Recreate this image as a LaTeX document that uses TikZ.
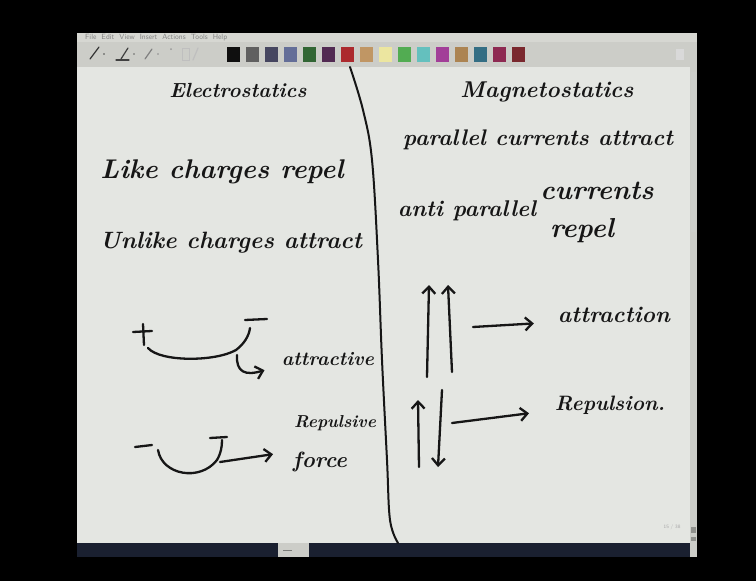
\documentclass[tikz,border=0pt]{standalone}
\usepackage{tikz}
\usepackage{graphicx}
\usetikzlibrary{arrows.meta}
\usetikzlibrary{positioning}

\definecolor{page}{RGB}{228,230,226}
\definecolor{toolbar}{RGB}{204,205,200}
\definecolor{menubar}{RGB}{214,215,210}
\definecolor{status}{RGB}{26,32,48}
\definecolor{ink}{RGB}{22,22,22}

% handwriting scaled to a given width
\newcommand{\hand}[2]{\resizebox{#1pt}{!}{\bfseries\itshape #2}}

\begin{document}
\begin{tikzpicture}[
    x=1pt, y=-1pt,
    pen/.style={draw=ink, line width=2.3pt, line cap=round, line join=round},
    arr/.style={pen, -{Straight Barb[length=7pt,width=13pt]}},
    hand/.style={inner sep=0pt, anchor=base, text=ink},
    icon/.style={line width=1.2pt, line cap=round},
]
    \useasboundingbox (0,0) rectangle (756,581);
    \fill[black] (0,0) rectangle (756,581);

    % Window: menu, toolbar, page, status bar
    \fill[menubar] (77,33) rectangle (697,42);
    \fill[toolbar] (77,42) rectangle (697,67);
    \fill[page] (77,67) rectangle (690,543);
    \fill[toolbar] (690,67) rectangle (697,543);
    \fill[page!90!black] (691,72) rectangle (696,232);
    \fill[toolbar!70!black] (691,527) rectangle (696,533);
    \fill[toolbar!70!black] (691,537) rectangle (696,541);
    \fill[status] (77,543) rectangle (278,557);
    \fill[toolbar] (278,543) rectangle (309,557);
    \fill[status] (309,543) rectangle (690,557);
    \fill[toolbar] (690,543) rectangle (697,557);
    \draw[toolbar!60!black, line width=0.6pt] (283,550) -- (292,550);

    \node[anchor=west, inner sep=0pt, text=black!50] (menu) at (85,37.5)
        {\resizebox{142pt}{!}{\sffamily File\ \ Edit\ \ View\ \ Insert\ \ Actions\ \ Tools\ \ Help}};

    % Pen tools
    \draw[icon, black!80] (90,59) -- (99,47);
    \fill[black!70] (104,54) circle (0.9);
    \draw[icon, black!75] (121,59) -- (128,48);
    \draw[icon, black!75] (116,60) -- (129,60);
    \fill[black!60] (134,54) circle (0.9);
    \draw[icon, black!50] (145,59) -- (152,49);
    \fill[black!45] (158,54) circle (0.9);
    \fill[black!40] (171,49) circle (1);
    \draw[black!25, line width=0.8pt] (182,48) rectangle (189,60);
    \draw[icon, black!25] (193,60) -- (198,48);
    \fill[white!85!black] (676,49) rectangle (684,60);

    % Colour swatches
    \foreach \red/\grn/\blu [count=\i from 0] in {15/15/15, 96/96/96, 70/70/96,
        100/110/152, 50/102/52, 82/42/82, 172/42/46, 192/150/100, 236/230/160,
        82/172/82, 100/192/190, 162/62/152, 172/132/82, 52/110/132, 142/42/82,
        122/40/46} {
        \definecolor{swatch}{RGB}{\red,\grn,\blu}
        \fill[swatch] (227+19*\i,47) rectangle ++(13,15);
    }

    % Divider
    \draw[pen, line width=2pt] plot[smooth, tension=0.6] coordinates {(350,67) (363,110)
        (372,160) (378,260) (382,360) (387,460) (390,520) (398,543)};

    % Headings and statements
    \node[hand] (elec) at (238,97) {\hand{137}{Electrostatics}};
    \node[hand] (like) at (222,178) {\hand{243}{Like charges repel}};
    \node[hand] (unlike) at (231,248) {\hand{262}{Unlike charges attract}};
    \node[hand] (magneto) at (547,97) {\hand{173}{Magnetostatics}};
    \node[hand] (para) at (538,145) {\hand{270}{parallel currents attract}};
    \node[hand] (anti) at (467,216) {\hand{138}{anti parallel}};
    \node[hand] (currents) at (597,199) {\hand{113}{currents}};
    \node[hand] (repel) at (582,237) {\hand{64}{repel}};

    % Charges
    \node[hand] (attractive) at (328,365) {\hand{92}{attractive}};
    \node[hand] (repulsive) at (335,427) {\hand{82}{Repulsive}};
    \node[hand] (force) at (320,467) {\hand{54}{force}};
    \draw[pen] (133,332) -- (152,331);
    \draw[pen] (143,324) -- (144,345);
    \draw[pen] (245,320) -- (267,319);
    \draw[pen] (148,348) .. controls (160,362) and (215,362) .. (236,350)
        .. controls (244,344) and (249,336) .. (250,328);
    \coordinate (hookA) at (237,355);
    \draw[arr, shorten >=18pt] (hookA) .. controls (236,372) and (245,376) .. (attractive.base west);
    \draw[pen] (135,447) -- (152,445);
    \draw[pen] (210,438) -- (227,437);
    \draw[pen] (158,450) .. controls (162,475) and (200,482) .. (217,460)
        .. controls (221,453) and (222,447) .. (222,440);
    \coordinate (hookB) at (220,462);
    \draw[arr, shorten >=20pt] (hookB) -- (force.north west);

    % Currents
    \node[hand] (attraction) at (614,322) {\hand{112}{attraction}};
    \node[hand] (repulsion) at (610,410) {\hand{110}{Repulsion.}};
    \draw[arr] (427,377) -- (429,285);
    \draw[arr] (452,372) -- (448,285);
    \coordinate (upup) at (473,327);
    \draw[arr, shorten >=24pt] (upup) -- (attraction.base west);
    \draw[arr] (419,467) -- (418,400);
    \draw[arr] (442,390) -- (438,467);
    \coordinate (updown) at (452,423);
    \draw[arr, shorten >=26pt] (updown) -- (repulsion.base west);

    \node[inner sep=0pt, text=black!35, font=\sffamily\tiny] (pageno) at (672,527) {15 / 38};
\end{tikzpicture}
\end{document}
